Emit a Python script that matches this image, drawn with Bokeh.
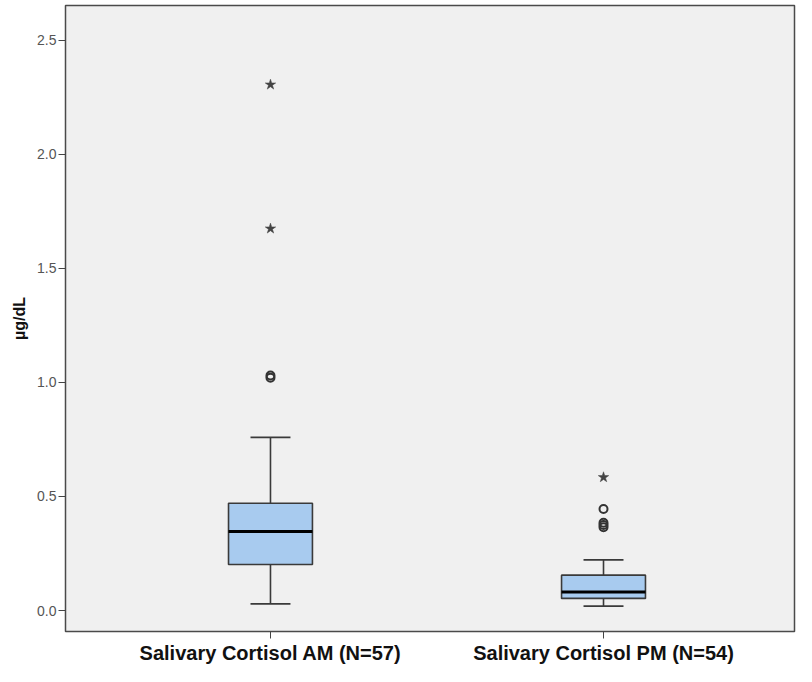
from bokeh.plotting import figure
from bokeh.models import FixedTicker, Range1d
from bokeh.embed import file_html
from bokeh.resources import INLINE

categories = ["Salivary Cortisol AM (N=57)", "Salivary Cortisol PM (N=54)"]
lower_whisker = [0.029, 0.019]
q1 = [0.202, 0.053]
median = [0.346, 0.081]
q3 = [0.470, 0.155]
upper_whisker = [0.759, 0.222]
outliers_cat = [0, 0, 1, 1, 1, 1]
outliers_val = [1.020, 1.030, 0.445, 0.385, 0.375, 0.365]
extremes_cat = [0, 0, 1]
extremes_val = [1.674, 2.305, 0.584]
y_ticks = [0.0, 0.5, 1.0, 1.5, 2.0, 2.5]

xpos = [i + 1 for i in range(len(categories))]
box_w = 0.252
cap_w = 0.12

p = figure(width=796, height=666, output_backend="svg", toolbar_location=None,
           x_range=Range1d(0.3845, 2.5735), y_range=Range1d(-0.092, 2.652),
           min_border_left=65, min_border_right=2, min_border_top=5,
           min_border_bottom=30)
p.background_fill_color = "#F0F0F0"
p.border_fill_color = "white"
p.outline_line_color = "#4a4a4a"
p.outline_line_width = 1.5
p.xgrid.visible = False
p.ygrid.visible = False

# whiskers
p.segment(x0=xpos, y0=q3, x1=xpos, y1=upper_whisker, line_color="#3a3a3a", line_width=1.6)
p.segment(x0=xpos, y0=q1, x1=xpos, y1=lower_whisker, line_color="#3a3a3a", line_width=1.6)
p.segment(x0=[x - cap_w / 2 for x in xpos], y0=upper_whisker,
          x1=[x + cap_w / 2 for x in xpos], y1=upper_whisker, line_color="#3a3a3a", line_width=1.8)
p.segment(x0=[x - cap_w / 2 for x in xpos], y0=lower_whisker,
          x1=[x + cap_w / 2 for x in xpos], y1=lower_whisker, line_color="#3a3a3a", line_width=1.8)
# boxes
p.vbar(x=xpos, width=box_w, bottom=q1, top=q3, fill_color="#A8CBEF",
       line_color="#3a3a3a", line_width=1.6)
# medians
p.segment(x0=[x - box_w / 2 for x in xpos], y0=median,
          x1=[x + box_w / 2 for x in xpos], y1=median, line_color="black", line_width=3)
# outliers
p.scatter(x=[xpos[c] for c in outliers_cat], y=outliers_val, marker="circle", size=8,
          fill_color=None, line_color="#333333", line_width=2)
p.scatter(x=[xpos[c] for c in extremes_cat], y=extremes_val, marker="star", size=11,
          fill_color="#444444", line_color="#444444", line_width=0.5)

# axes
p.xaxis.ticker = FixedTicker(ticks=xpos)
p.xaxis.major_label_overrides = {x: c for x, c in zip(xpos, categories)}
p.xaxis.major_label_text_font = "Liberation Sans"
p.xaxis.major_label_text_font_style = "bold"
p.xaxis.major_label_text_font_size = "20px"
p.xaxis.major_label_text_color = "#111111"
p.xaxis.major_label_standoff = 3
p.xaxis.axis_line_color = None
p.xaxis.major_tick_out = 7
p.xaxis.major_tick_in = 0
p.xaxis.major_tick_line_color = "#444444"
p.xaxis.minor_tick_line_color = None

p.yaxis.ticker = FixedTicker(ticks=y_ticks)
p.yaxis.major_label_overrides = {t: f"{t:.1f}" for t in y_ticks}
p.yaxis.major_label_text_font = "Liberation Sans"
p.yaxis.major_label_text_font_size = "14px"
p.yaxis.major_label_text_color = "#555555"
p.yaxis.major_label_standoff = 2
p.yaxis.axis_line_color = None
p.yaxis.major_tick_out = 7
p.yaxis.major_tick_in = 0
p.yaxis.major_tick_line_color = "#444444"
p.yaxis.minor_tick_line_color = None
p.yaxis.axis_label = "\u00b5g/dL"
p.yaxis.axis_label_text_font = "Liberation Sans"
p.yaxis.axis_label_text_font_style = "bold"
p.yaxis.axis_label_text_font_size = "16px"
p.yaxis.axis_label_text_color = "#111111"
p.yaxis.axis_label_standoff = 6

open("out.html", "w").write(file_html(p, INLINE))
